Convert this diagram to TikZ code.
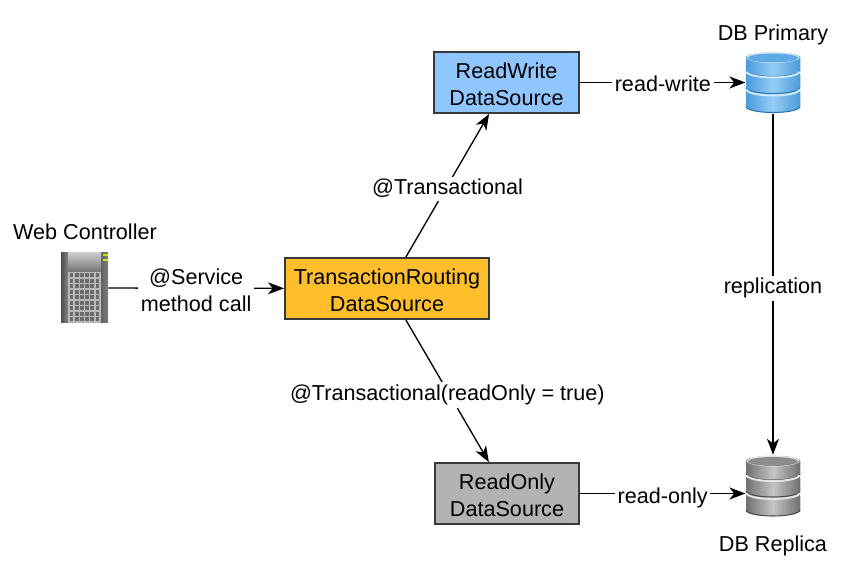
\documentclass[tikz,border=0pt]{standalone}
\usepackage{fontspec}
\setmainfont{Liberation Sans}
\usetikzlibrary{arrows.meta}
\definecolor{boxline}{HTML}{36393D}
\definecolor{rwfill}{HTML}{90C6FF}
\definecolor{routefill}{HTML}{FFBE2A}
\definecolor{rofill}{HTML}{B3B3B3}
\definecolor{blueedge}{HTML}{4A9ADB}
\definecolor{bluemid}{HTML}{95CDF5}
\definecolor{bluerim}{HTML}{2F78B8}
\definecolor{bluelight}{HTML}{CDE9FB}
\definecolor{bluetop}{HTML}{5FAAE4}
\definecolor{grayedge}{HTML}{707070}
\definecolor{graymid}{HTML}{C4C4C4}
\definecolor{grayrim}{HTML}{4C4C4C}
\definecolor{graylight}{HTML}{E4E4E4}
\definecolor{graytop}{HTML}{8C8C8C}
\newcommand{\boxtext}[2]{\rule{0pt}{14.5pt}#1\\#2}
\tikzset{
	pics/dbstack/.style n args={5}{code={
		\foreach \top/\bot in {10/24,-8/5,-25/-12}{
			\fill[left color=#1, right color=#1, middle color=#2]
				(-27,\top) -- (-27,\bot) arc[start angle=180, end angle=0, x radius=27, y radius=6]
				-- (27,\top) arc[start angle=0, end angle=-180, x radius=27, y radius=5] -- cycle;
			\draw[#3, line width=.8pt]
				(-27,\bot) arc[start angle=180, end angle=0, x radius=27, y radius=6];
		}
		\foreach \top in {10,-8}
			\draw[#4, line width=1.5pt]
				(-26.5,\top-3) arc[start angle=180, end angle=0, x radius=26.5, y radius=6];
		\fill[#4] (0,-25) ellipse[x radius=26.5, y radius=5.5];
		\fill[#5] (0,-24.5) ellipse[x radius=25, y radius=4.5];
	}}
}
\begin{document}
\begin{tikzpicture}[x=0.75pt, y=-0.75pt, thick, font=\fontsize{16.2pt}{20pt}\selectfont,
	flowbox/.style={draw=boxline, line width=1.5pt, align=center, minimum height=45.5pt, inner sep=0pt},
	iconbox/.style={inner sep=0pt},
	caption/.style={inner sep=1pt},
	edgelabel/.style={fill=white, align=center, inner sep=2pt, yshift=-1.5pt},
	flow/.style={-{Stealth[length=12pt, width=9pt, inset=3.5pt]}, draw=black, line width=1pt}]
	\useasboundingbox (0,0) rectangle (865,563);
	% boxes
	\node[flowbox, fill=rwfill, minimum width=109pt] (readwrite) at (506.5,82.5) {\boxtext{ReadWrite}{DataSource}};
	\node[flowbox, fill=routefill, minimum width=153pt] (routing) at (387,288.5) {\boxtext{TransactionRouting}{DataSource}};
	\node[flowbox, fill=rofill, minimum width=108pt] (readonly) at (507,493.5) {\boxtext{ReadOnly}{DataSource}};
	% icons
	\node[iconbox, minimum width=35pt, minimum height=54pt] (server) at (84.5,288) {};
	\node[iconbox, minimum width=40.5pt, minimum height=46pt] (primary) at (773,82.5) {};
	\node[iconbox, minimum width=40.5pt, minimum height=46pt] (replica) at (773,486) {};
	\pic at (primary) {dbstack={blueedge}{bluemid}{bluerim}{bluelight}{bluetop}};
	\pic at (replica) {dbstack={grayedge}{graymid}{grayrim}{graylight}{graytop}};
	% server tower
	\fill[left color=black!70, right color=black!48] (61,253) rectangle (68,323);
	\fill[left color=black!62, right color=black!50] (101,253) rectangle (108,323);
	\fill[top color=black!20, bottom color=black!55] (68,253) rectangle (101,272);
	\fill[black!28] (68,272) rectangle (101,323);
	\foreach \row in {0,...,8}
		\foreach \col in {0,...,5}
			\fill[black!58] (69.5+5.2*\col,273.5+5.5*\row) rectangle ++(3.8,3.8);
	\foreach \y in {255,260}
		\fill[yellow!80!green] (102.5,\y-1) rectangle (108,\y+1);
	% captions
	\node[caption] (webcap) at (85,232) {Web Controller};
	\node[caption] (primarycap) at (773,35) {DB Primary};
	\node[caption] (replicacap) at (773,546) {DB Replica};
	% connectors
	\draw[flow] (server) -- node[edgelabel] (servicecall) {@Service\\method call} (routing);
	\draw[flow] (routing.59) -- node[edgelabel, yshift=-.8pt] (txlabel) {@Transactional} (readwrite.241);
	\draw[flow] (routing.-59) -- node[edgelabel, yshift=-1.5pt] (rolabel) {@Transactional(readOnly = true)} (readonly.120);
	\draw[flow] (readwrite) -- node[edgelabel, yshift=.7pt] (rwedge) {read-write} (primary);
	\draw[flow] (readonly) -- node[edgelabel, yshift=-1.5pt] (roedge) {read-only} (replica.west |- readonly);
	\draw[flow] (primary) -- node[edgelabel, yshift=-1.5pt] (repl) {replication} (replica);
\end{tikzpicture}
\end{document}
